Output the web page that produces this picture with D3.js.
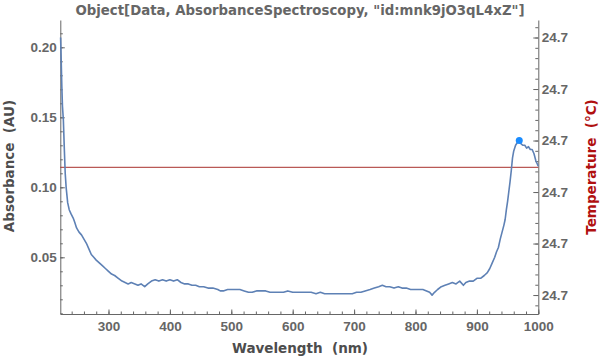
<!DOCTYPE html>
<html>
<head>
<meta charset="utf-8">
<script src="https://cdn.jsdelivr.net/npm/d3@7"></script>
<style>
  body { margin: 0; background: #fff; }
  svg { display: block; font-family: "DejaVu Sans", sans-serif; }
  .tick text { font-size: 13.5px; font-weight: bold; fill: #666; }
  .domain, .tick line { stroke: #666; }
</style>
</head>
<body>
<div id="chart"></div>
<script>
// spectrum
const wavelengths = [222, 223, 224, 225, 226.5, 228, 229.5, 231, 233.5, 236, 239, 242.5, 245, 248, 252, 256, 260, 264, 268, 272,
  276, 280, 285, 290, 295, 300, 305, 310, 316, 322, 327, 332, 337, 343, 348, 353, 359, 364, 370, 376,
  382, 388, 394, 400, 406, 412, 418, 424, 430, 436, 442, 448, 455, 462, 470, 478, 482, 487, 494, 500,
  507, 514, 521, 528, 534, 541, 548, 556, 563, 570, 578, 585, 592, 600, 607, 614, 622, 630, 638, 645,
  652, 660, 667, 675, 682, 690, 697, 704, 711, 718, 726, 733, 740, 746, 752, 758, 765, 772, 778, 785,
  792, 798, 805, 812, 818, 823, 827, 831, 836, 842, 848, 854, 860, 866, 872, 878, 882, 888, 894, 900,
  906, 912, 917, 921, 925, 929, 932, 935, 938, 941, 944, 946, 948, 950, 952, 954, 956, 958, 960, 963,
  966, 969, 972, 975, 978, 981, 984, 987, 990, 993, 996, 998, 1000];
const absorbance = [0.207, 0.190, 0.172, 0.158, 0.148, 0.128, 0.110, 0.100, 0.089, 0.084, 0.081, 0.078, 0.075, 0.071, 0.068, 0.066, 0.063, 0.060, 0.056, 0.052,
  0.050, 0.048, 0.046, 0.044, 0.042, 0.040, 0.038, 0.037, 0.035, 0.033, 0.032, 0.031, 0.032, 0.031, 0.030, 0.031, 0.029, 0.031, 0.033, 0.034,
  0.033, 0.034, 0.033, 0.034, 0.033, 0.034, 0.032, 0.031, 0.031, 0.030, 0.030, 0.029, 0.029, 0.028, 0.028, 0.027, 0.026, 0.026, 0.027, 0.027,
  0.027, 0.027, 0.026, 0.025, 0.025, 0.026, 0.026, 0.026, 0.025, 0.025, 0.025, 0.025, 0.026, 0.025, 0.025, 0.025, 0.025, 0.025, 0.024, 0.025,
  0.024, 0.024, 0.024, 0.024, 0.024, 0.024, 0.024, 0.025, 0.025, 0.026, 0.027, 0.028, 0.029, 0.030, 0.029, 0.029, 0.028, 0.029, 0.028, 0.028,
  0.027, 0.027, 0.027, 0.027, 0.026, 0.025, 0.023, 0.025, 0.027, 0.029, 0.030, 0.031, 0.032, 0.031, 0.033, 0.030, 0.032, 0.033, 0.033, 0.035,
  0.035, 0.037, 0.039, 0.042, 0.046, 0.050, 0.054, 0.057, 0.063, 0.068, 0.073, 0.077, 0.084, 0.090, 0.097, 0.104, 0.112, 0.121, 0.126, 0.130,
  0.132, 0.1335, 0.131, 0.130, 0.130, 0.128, 0.129, 0.127, 0.127, 0.124, 0.119, 0.117, 0.115];
const peakWavelength = 969;

// temperature trace (constant)
const tempWavelengths = [221.5, 1000];
const temperature = [24.69974, 24.69974];

const titleText = 'Object[Data, AbsorbanceSpectroscopy, "id:mnk9jO3qL4xZ"]';
const xTicks = [300, 400, 500, 600, 700, 800, 900, 1000];
const yTicks = [0.05, 0.10, 0.15, 0.20];

const width = 600, height = 358;
const plotLeft = 60.3, plotRight = 538.3, plotTop = 20, plotBottom = 314;

const svg = d3.select("#chart").append("svg")
  .attr("width", width)
  .attr("height", height);

const x = d3.scaleLinear().domain([221.5, 1000]).range([plotLeft, plotRight]);
const y = d3.scaleLinear().domain([0.0095, 0.2195]).range([plotBottom, plotTop]);
const yT = d3.scaleLinear().domain([24.698316, 24.70117]).range([plotBottom, plotTop]);

// minor ticks first, then major
svg.append("g").attr("transform", `translate(0,${plotBottom})`)
  .call(d3.axisBottom(x).tickValues(d3.range(240, 1001, 20)).tickSize(-2.5).tickFormat(""))
  .call(g => g.select(".domain").remove());
svg.append("g").attr("transform", `translate(0,${plotBottom})`)
  .call(d3.axisBottom(x).tickValues(xTicks).tickSize(-4.5).tickPadding(7.5).tickSizeOuter(0).tickFormat(d3.format("d")));

svg.append("g").attr("transform", `translate(${plotLeft},0)`)
  .call(d3.axisLeft(y).tickValues(d3.range(0.01, 0.215, 0.01)).tickSize(-2.5).tickFormat(""))
  .call(g => g.select(".domain").remove());
svg.append("g").attr("transform", `translate(${plotLeft},0)`)
  .call(d3.axisLeft(y).tickValues(yTicks).tickSize(-4.5).tickPadding(3.5).tickSizeOuter(0).tickFormat(d3.format(".2f")));

svg.append("g").attr("transform", `translate(${plotRight},0)`)
  .call(d3.axisRight(yT).ticks(30).tickSize(-3).tickFormat(""))
  .call(g => g.select(".domain").remove());
svg.append("g").attr("transform", `translate(${plotRight},0)`)
  .call(d3.axisRight(yT).ticks(6).tickSize(-5).tickPadding(3.5).tickSizeOuter(0).tickFormat(d3.format(".1f")));

// temperature line
const tempData = tempWavelengths.map((w, i) => ({ w, t: temperature[i] }));
svg.append("path")
  .datum(tempData)
  .attr("fill", "none")
  .attr("stroke", "#a8302c")
  .attr("stroke-width", 1)
  .attr("d", d3.line().x(d => x(d.w)).y(d => yT(d.t)));

// absorbance spectrum
const spec = wavelengths.map((w, i) => ({ w, a: absorbance[i] }));
svg.append("path")
  .datum(spec)
  .attr("fill", "none")
  .attr("stroke", "#5e81b5")
  .attr("stroke-width", 1.6)
  .attr("stroke-linejoin", "round")
  .attr("d", d3.line().x(d => x(d.w)).y(d => y(d.a)));

const peak = spec.find(d => d.w === peakWavelength);
svg.append("circle")
  .attr("cx", x(peak.w))
  .attr("cy", y(peak.a))
  .attr("r", 3.5)
  .attr("fill", "#1a8cff");

// titles
svg.append("text")
  .attr("x", 300).attr("y", 15)
  .attr("text-anchor", "middle")
  .attr("font-size", 13.3).attr("font-weight", "bold").attr("fill", "#666")
  .text(titleText);

svg.append("text")
  .attr("x", 300).attr("y", 353)
  .attr("text-anchor", "middle")
  .attr("font-size", 13.5).attr("font-weight", "bold").attr("fill", "#4d4d4d")
  .attr("xml:space", "preserve")
  .text("Wavelength  (nm)");

svg.append("text")
  .attr("transform", "translate(14,166) rotate(-90)")
  .attr("text-anchor", "middle")
  .attr("font-size", 13.5).attr("font-weight", "bold").attr("fill", "#4d4d4d")
  .attr("xml:space", "preserve")
  .text("Absorbance  (AU)");

svg.append("text")
  .attr("transform", "translate(596,167) rotate(-90)")
  .attr("text-anchor", "middle")
  .attr("font-size", 13.5).attr("font-weight", "bold").attr("fill", "#b01010")
  .attr("xml:space", "preserve")
  .text("Temperature  (°C)");
</script>
</body>
</html>
